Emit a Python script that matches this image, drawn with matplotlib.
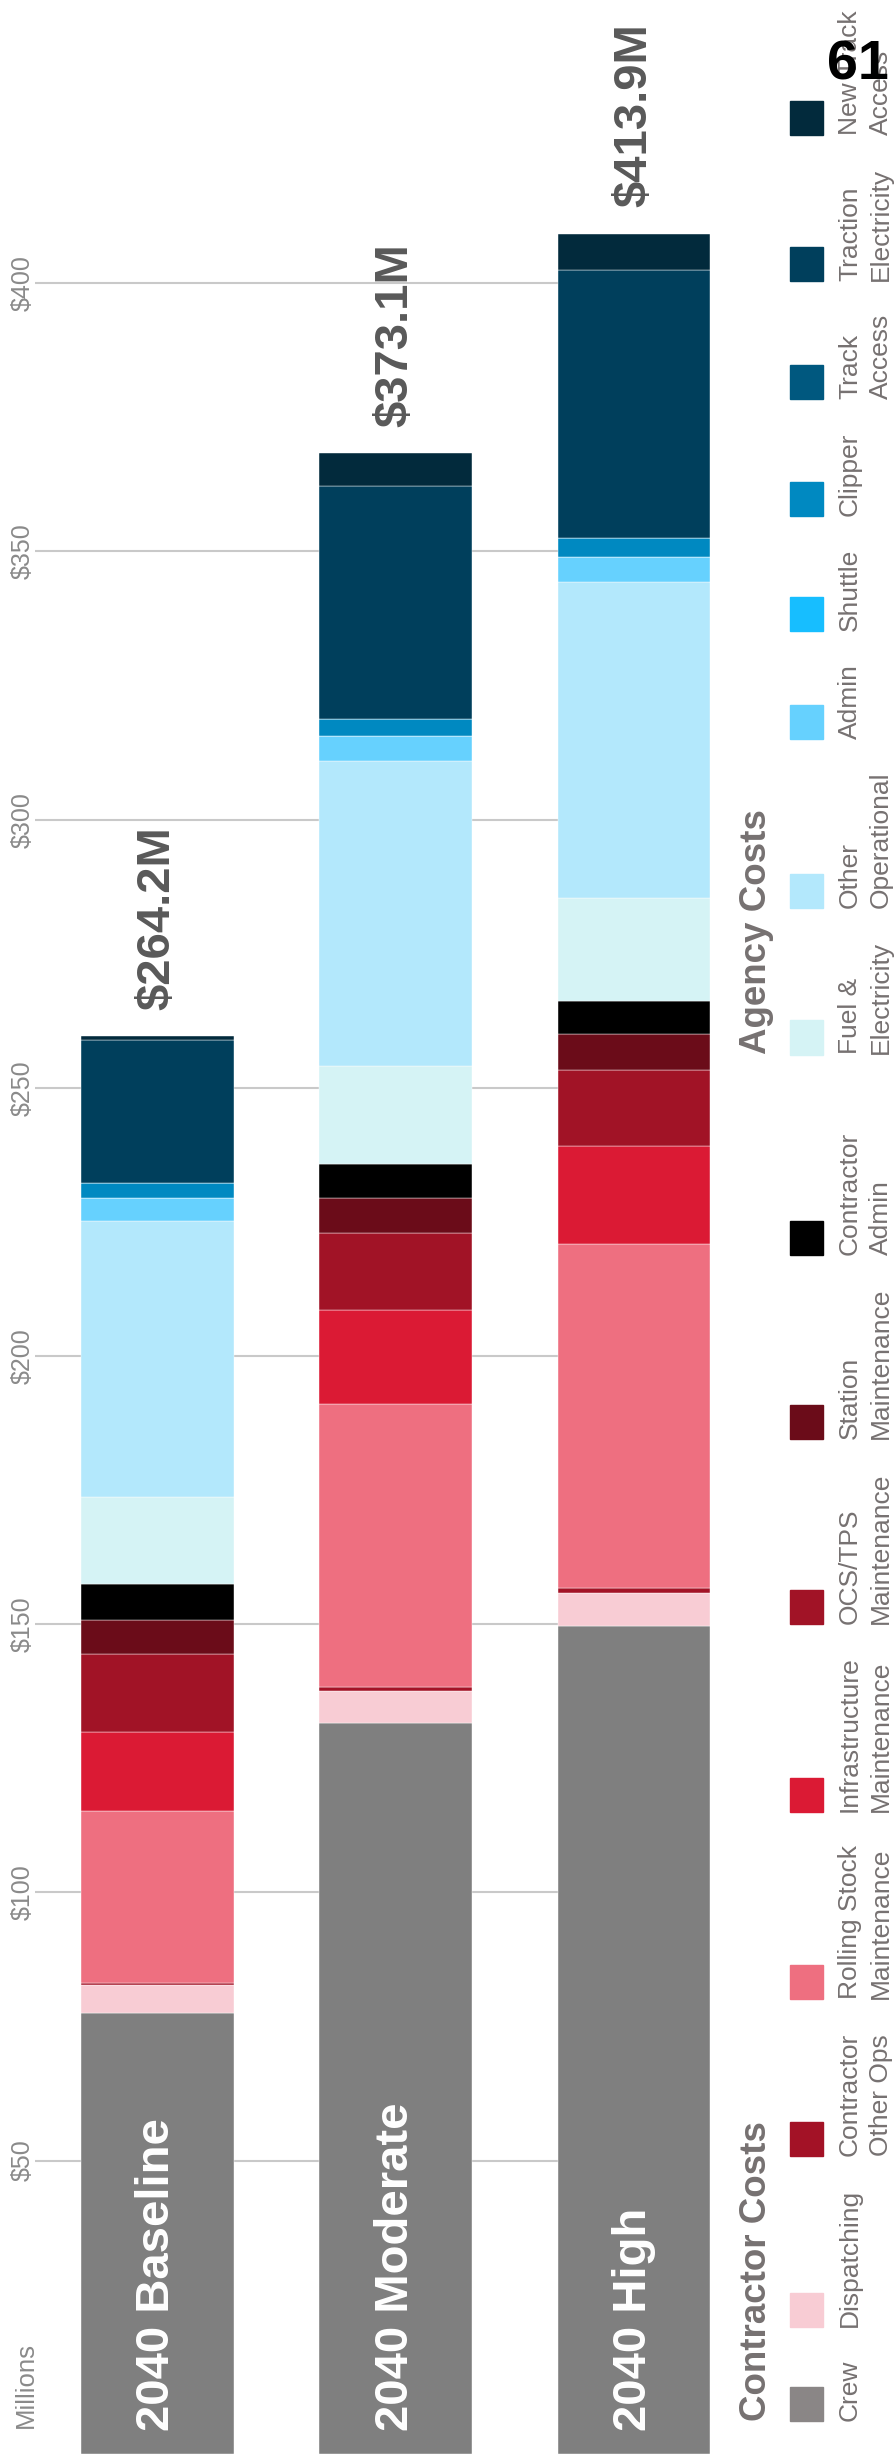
import numpy as np
import matplotlib
matplotlib.use("Agg")
import matplotlib.pyplot as plt
from matplotlib.patches import Rectangle

plt.rcParams['font.family'] = ['Liberation Sans', 'DejaVu Sans']

# data ($ millions)
scenarios = ['2040 Baseline', '2040 Moderate', '2040 High']
totals = [264.2, 373.1, 413.9]

contractor_labels = ['Crew', 'Dispatching', 'Contractor\nOther Ops', 'Rolling Stock\nMaintenance',
                     'Infrastructure\nMaintenance', 'OCS/TPS\nMaintenance', 'Station\nMaintenance',
                     'Contractor\nAdmin']
agency_labels = ['Fuel &\nElectricity', 'Other\nOperational', 'Admin', 'Shuttle', 'Clipper',
                 'Track\nAccess', 'Traction\nElectricity', 'New Track\nAccess']

crew = [82.3, 136.3, 154.4]
dispatching = [5.2, 5.9, 6.2]
contractor_other_ops = [0.4, 0.7, 0.8]
rolling_stock = [32.0, 52.8, 64.1]
infrastructure = [14.7, 17.6, 18.4]
ocs_tps = [14.5, 14.4, 14.2]
station = [6.4, 6.4, 6.6]
contractor_admin = [6.7, 6.3, 6.2]
fuel_electricity = [16.3, 18.4, 19.2]
other_operational = [51.3, 56.8, 58.9]
admin = [4.3, 4.7, 4.7]
shuttle = [0.0, 0.0, 0.0]
clipper = [2.9, 3.1, 3.5]
track_access = [0.0, 0.0, 0.0]
traction_electricity = [26.6, 43.4, 49.9]
new_track_access = [0.7, 6.2, 6.8]

tick_values = [50, 100, 150, 200, 250, 300, 350, 400]

series = [crew, dispatching, contractor_other_ops, rolling_stock, infrastructure, ocs_tps,
          station, contractor_admin, fuel_electricity, other_operational, admin, shuttle,
          clipper, track_access, traction_electricity, new_track_access]

contractor_colors = ['#7F7F7F', '#F8CCD4', '#A31226', '#EE6F80', '#DB1A34', '#A11326',
                     '#6B0C19', '#000000']
agency_colors = ['#D5F3F5', '#B3E8FC', '#66D1FE', '#17BEFF', '#0089C1', '#00587F',
                 '#003F5C', '#022A3C']
colors = contractor_colors + agency_colors

W, H = 894, 2463
TEXT_GRAY = '#767171'
AXIS_SHIFT = 4.7  # the value-axis labels sit slightly above the true values in the original

fig = plt.figure(figsize=(W / 100, H / 100), dpi=100)
ax = fig.add_axes([35 / W, (H - 2454) / H, (710 - 35) / W, 2454 / H])

x = np.arange(len(scenarios))
bottom = np.zeros(len(scenarios))
for vals, col in zip(series, colors):
    vals = np.array(vals)
    ax.bar(x, vals, 0.642, bottom=bottom, color=col, edgecolor='white', linewidth=0.3)
    bottom += vals

ax.set_xlim(-0.514, 2.319)
ax.set_ylim(0, 2454 / 5.364)

for i, name in enumerate(scenarios):
    ax.annotate(name, (x[i], 0), xytext=(0, 16.5), textcoords='offset points',
                rotation=90, ha='center', va='bottom', fontsize=34, fontweight='bold',
                color='white')
    ax.annotate('${:.1f}M'.format(totals[i]), (x[i], bottom[i]), xytext=(0, 19),
                textcoords='offset points', rotation=90, ha='center', va='bottom',
                fontsize=34, fontweight='bold', color='#595959')

ax.set_yticks([t + AXIS_SHIFT for t in tick_values], ['${}'.format(t) for t in tick_values])
ax.tick_params(axis='y', length=0, pad=0.5, labelsize=18, labelcolor='#8A8A8A',
               labelrotation=90)
for lab in ax.get_yticklabels():
    lab.set_va('center')
ax.set_xticks([])
ax.yaxis.grid(True, color='#C9C9C9', linewidth=1.5)
ax.set_axisbelow(True)
for s in ax.spines.values():
    s.set_visible(False)

fig.text(33 / W, 1 - 2428 / H, 'Millions', rotation=90, rotation_mode='anchor',
         ha='left', va='baseline', fontsize=18.5, color='#8A8A8A')


# legend, laid out like the original: entries flow upward from the bottom
def fxy(px, py):
    return px / W, 1 - py / H


renderer = fig.canvas.get_renderer()
pos = 2421
sections = [('Contractor Costs', contractor_labels, contractor_colors),
            ('Agency Costs', agency_labels, agency_colors)]
for k, (heading, labels, cols) in enumerate(sections):
    if k > 0:
        pos -= 44
    fig.text(*fxy(766, pos), heading, rotation=90, rotation_mode='anchor', ha='left',
             va='baseline', fontsize=26.5, fontweight='bold', color=TEXT_GRAY)
    for label, col in zip(labels, cols):
        if label == 'Crew':
            col = '#8A8686'
        fig.patches.append(Rectangle(fxy(790, pos), 33 / W, 34 / H, transform=fig.transFigure,
                                     color=col))
        widths = []
        for j, line in enumerate(label.split('\n')):
            t = fig.text(*fxy([857, 888][j], pos), line, rotation=90, rotation_mode='anchor',
                         ha='left', va='baseline', fontsize=19, color=TEXT_GRAY)
            widths.append(t.get_window_extent(renderer).height)
        pos -= max(widths) + 33

fig.text(*fxy(889, 80), '61', ha='right', va='baseline', fontsize=40, fontweight='bold',
         color='black', zorder=10)

fig.savefig('out.png', dpi=100)
